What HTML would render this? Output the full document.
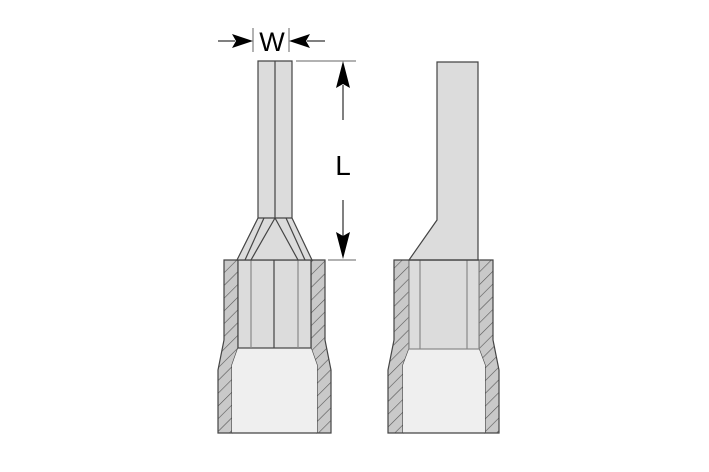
<!DOCTYPE html>
<html><head><style>body{margin:0;background:#fff}svg{display:block}</style></head>
<body>
<svg width="709" height="472" viewBox="0 0 709 472" xmlns="http://www.w3.org/2000/svg">
<defs>
<pattern id="h" patternUnits="userSpaceOnUse" width="9" height="9" patternTransform="rotate(-45)">
<rect width="9" height="9" fill="#c9c9c9"/><line x1="0" y1="0" x2="9" y2="0" stroke="#555" stroke-width="1.2"/>
</pattern>
</defs>
<g stroke="#444" stroke-width="1.2">
<!-- LEFT -->
<path d="M224 260 H238 V348 L232 365 V433 H218 V370 L224 340 Z" fill="url(#h)"/>
<path d="M325 260 H311 V348 L317 365 V433 H331 V370 L325 340 Z" fill="url(#h)"/>
<rect x="238" y="348" width="73" height="85" fill="#efefef" stroke="none"/>
<path d="M232 365 L238 348 H311 L317 365 V433 H232 Z" fill="#efefef" stroke="none"/>
<rect x="238" y="260" width="73" height="88" fill="#dcdcdc"/>
<line x1="251" y1="260" x2="251" y2="348" stroke="#888"/>
<line x1="274" y1="260" x2="274" y2="348"/>
<line x1="298" y1="260" x2="298" y2="348" stroke="#888"/>
<line x1="232" y1="433" x2="317" y2="433"/>
<path d="M258 61 H292 V218 L312 260 H237 L258 218 Z" fill="#dcdcdc"/>
<path d="M258 218 H292 M275 61 V218 L251 260 M275 218 L298 260 M264 218 L245 260 M286 218 L305 260" fill="none"/>
<!-- RIGHT -->
<path d="M394 260 H409 V349 L403 365 V433 H388 V370 L394 340 Z" fill="url(#h)"/>
<path d="M493 260 H479 V349 L485 365 V433 H499 V370 L493 340 Z" fill="url(#h)"/>
<path d="M403 365 L409 349 H479 L485 365 V433 H403 Z" fill="#efefef" stroke="none"/>
<rect x="409" y="260" width="70" height="89" fill="#dcdcdc" stroke="#888"/>
<line x1="420" y1="260" x2="420" y2="349" stroke="#888"/>
<line x1="467" y1="260" x2="467" y2="349" stroke="#888"/>
<line x1="403" y1="433" x2="485" y2="433"/>
<path d="M437 62 H478 V260 H409 L437 220 Z" fill="#dcdcdc"/>
<line x1="409" y1="260" x2="479" y2="260"/>
</g>
<!-- dimensions -->
<g stroke="#000" stroke-width="1" fill="#000">
<line x1="253" y1="28" x2="253" y2="52" stroke="#666"/>
<line x1="289" y1="28" x2="289" y2="52" stroke="#666"/>
<line x1="218" y1="41" x2="235" y2="41"/>
<path d="M253 41 L232 34 L236 41 L232 48 Z" stroke="none"/>
<line x1="307" y1="41" x2="325" y2="41"/>
<path d="M289 41 L310 34 L306 41 L310 48 Z" stroke="none"/>
<line x1="296" y1="61" x2="356" y2="61" stroke="#666"/>
<line x1="328" y1="260" x2="356" y2="260" stroke="#666"/>
<line x1="343" y1="85" x2="343" y2="120"/>
<path d="M343 61 L336 88 L343 84 L350 88 Z" stroke="none"/>
<line x1="343" y1="200" x2="343" y2="236"/>
<path d="M343 259 L336 232 L343 236 L350 232 Z" stroke="none"/>
</g>
<text x="272" y="51" font-family="Liberation Sans, sans-serif" font-size="27" text-anchor="middle" fill="#000">W</text>
<text x="343" y="175" font-family="Liberation Sans, sans-serif" font-size="28" text-anchor="middle" fill="#000">L</text>
</svg>
</body></html>
